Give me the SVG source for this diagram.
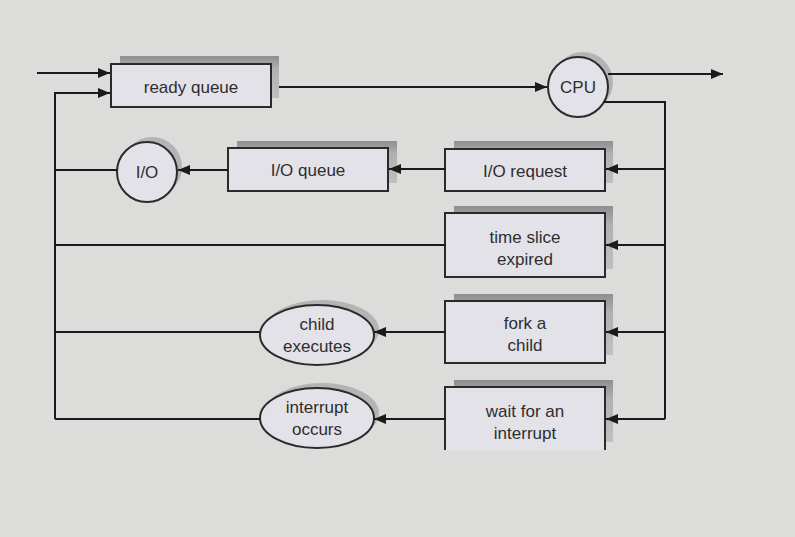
<svg xmlns="http://www.w3.org/2000/svg" width="795" height="537" viewBox="0 0 795 537">
<style>
.box{fill:#e3e2e8;stroke:#2a2a2a;stroke-width:2}
.sh{fill:url(#shg)}
.ln{fill:none;stroke:#1a1a1a;stroke-width:2}
.t{font-family:"Liberation Sans",Arial,sans-serif;font-size:17px;fill:#2e2e2e;text-anchor:middle}
</style>
<defs>
<linearGradient id="shg" x1="0" y1="0" x2="0" y2="1">
<stop offset="0" stop-color="#8e8e8e"/>
<stop offset="0.3" stop-color="#b0b0b0"/>
<stop offset="1" stop-color="#c0c0c0"/>
</linearGradient>
<marker id="ah" viewBox="0 0 12 10" refX="12" refY="5" markerWidth="12" markerHeight="10" markerUnits="userSpaceOnUse" orient="auto">
<path d="M0,0 L12,5 L0,10 Z" fill="#1a1a1a"/>
</marker>
</defs>
<rect width="795" height="537" fill="#dcdcdb"/>

<g id="ready-queue">
<rect class="sh" x="120" y="56" width="159" height="42"/>
<rect class="box" x="111" y="64" width="160" height="43"/>
<text class="t" x="191" y="93">ready queue</text>
</g>

<g id="cpu">
<circle cx="583" cy="82" r="30" fill="#b4b4b4"/>
<circle class="box" cx="578" cy="87" r="30"/>
<text class="t" x="578" y="93">CPU</text>
</g>

<g id="io">
<circle cx="152" cy="167" r="30" fill="#b4b4b4"/>
<circle class="box" cx="147" cy="172" r="30"/>
<text class="t" x="147" y="178">I/O</text>
</g>

<g id="io-queue">
<rect class="sh" x="237" y="141" width="160" height="42"/>
<rect class="box" x="228" y="148" width="160" height="43"/>
<text class="t" x="308" y="176">I/O queue</text>
</g>

<g id="io-request">
<rect class="sh" x="454" y="141" width="159" height="42"/>
<rect class="box" x="445" y="149" width="160" height="42"/>
<text class="t" x="525" y="177">I/O request</text>
</g>

<g id="time-slice">
<rect class="sh" x="454" y="206" width="159" height="63"/>
<rect class="box" x="445" y="213" width="160" height="64"/>
<text class="t" x="525" y="243">time slice</text>
<text class="t" x="525" y="265">expired</text>
</g>

<g id="fork-child">
<rect class="sh" x="454" y="294" width="159" height="61"/>
<rect class="box" x="445" y="301" width="160" height="62"/>
<text class="t" x="525" y="329">fork a</text>
<text class="t" x="525" y="351">child</text>
</g>

<g id="child-executes">
<ellipse cx="322" cy="330" rx="57" ry="30" fill="#b4b4b4"/>
<ellipse class="box" cx="317" cy="335" rx="57" ry="30"/>
<text class="t" x="317" y="330">child</text>
<text class="t" x="317" y="352">executes</text>
</g>

<g id="wait-interrupt">
<rect class="sh" x="454" y="380" width="159" height="62"/>
<rect x="445" y="387" width="160" height="63" fill="#e3e2e8"/>
<path d="M445,450 L445,387 L605,387 L605,450" fill="none" stroke="#2a2a2a" stroke-width="2"/>
<text class="t" x="525" y="417">wait for an</text>
<text class="t" x="525" y="439">interrupt</text>
</g>

<g id="interrupt-occurs">
<ellipse cx="322" cy="413" rx="57" ry="30" fill="#b4b4b4"/>
<ellipse class="box" cx="317" cy="418" rx="57" ry="30"/>
<text class="t" x="317" y="413">interrupt</text>
<text class="t" x="317" y="435">occurs</text>
</g>

<g id="connectors">
<line class="ln" x1="37" y1="73" x2="110" y2="73" marker-end="url(#ah)"/>
<polyline class="ln" points="55,419 55,93 110,93" marker-end="url(#ah)"/>
<line class="ln" x1="279" y1="87" x2="547" y2="87" marker-end="url(#ah)"/>
<line class="ln" x1="608" y1="74" x2="723" y2="74" marker-end="url(#ah)"/>
<polyline class="ln" points="604,102 665,102 665,419"/>
<line class="ln" x1="665" y1="169" x2="606" y2="169" marker-end="url(#ah)"/>
<line class="ln" x1="665" y1="245" x2="606" y2="245" marker-end="url(#ah)"/>
<line class="ln" x1="665" y1="332" x2="606" y2="332" marker-end="url(#ah)"/>
<line class="ln" x1="665" y1="419" x2="606" y2="419" marker-end="url(#ah)"/>
<line class="ln" x1="445" y1="169" x2="389" y2="169" marker-end="url(#ah)"/>
<line class="ln" x1="228" y1="170" x2="178" y2="170" marker-end="url(#ah)"/>
<line class="ln" x1="117" y1="170" x2="55" y2="170"/>
<line class="ln" x1="445" y1="245" x2="55" y2="245"/>
<line class="ln" x1="445" y1="332" x2="374" y2="332" marker-end="url(#ah)"/>
<line class="ln" x1="260" y1="332" x2="55" y2="332"/>
<line class="ln" x1="445" y1="419" x2="374" y2="419" marker-end="url(#ah)"/>
<line class="ln" x1="260" y1="419" x2="55" y2="419"/>
</g>
</svg>
